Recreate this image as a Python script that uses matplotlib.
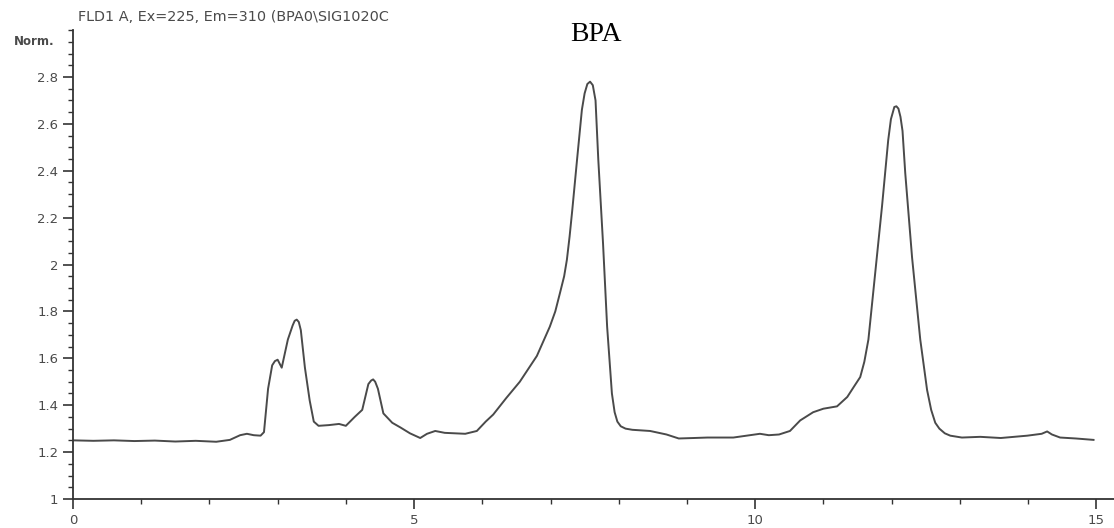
import matplotlib
matplotlib.use("Agg")
import matplotlib.pyplot as plt
from matplotlib.ticker import MultipleLocator, FormatStrFormatter

# Chromatogram trace (time in min, normalised signal)
time_min = [0.00, 0.30, 0.60, 0.90, 1.20, 1.50, 1.80, 2.10, 2.30, 2.45,
            2.55, 2.65, 2.75, 2.80, 2.86, 2.92, 2.96, 3.00, 3.06, 3.15,
            3.22, 3.25, 3.28, 3.31, 3.34, 3.40, 3.47, 3.53, 3.60, 3.75,
            3.90, 4.00, 4.13, 4.24, 4.33, 4.37, 4.40, 4.43, 4.47, 4.55,
            4.68, 4.80, 4.94, 5.09, 5.19, 5.31, 5.45, 5.60, 5.75, 5.92,
            6.05, 6.16, 6.35, 6.55, 6.80, 6.99, 7.07, 7.14, 7.20, 7.24,
            7.28, 7.32, 7.39, 7.46, 7.50, 7.54, 7.58, 7.62, 7.66, 7.70,
            7.77, 7.83, 7.90, 7.94, 7.98, 8.03, 8.10, 8.20, 8.46, 8.70,
            8.88, 9.10, 9.30, 9.68, 10.07, 10.20, 10.35, 10.51, 10.66, 10.85,
            11.00, 11.20, 11.35, 11.45, 11.54, 11.60, 11.66, 11.76, 11.86, 11.95,
            11.99, 12.04, 12.07, 12.10, 12.13, 12.16, 12.20, 12.30, 12.42, 12.52,
            12.58, 12.64, 12.70, 12.78, 12.86, 13.03, 13.30, 13.60, 13.99, 14.20,
            14.28, 14.35, 14.47, 14.70, 14.96]
signal = [1.250, 1.248, 1.250, 1.247, 1.249, 1.245, 1.248, 1.244, 1.252, 1.272,
          1.278, 1.272, 1.270, 1.285, 1.470, 1.570, 1.588, 1.594, 1.560, 1.680,
          1.740, 1.760, 1.765, 1.755, 1.720, 1.560, 1.420, 1.330, 1.312, 1.315,
          1.320, 1.312, 1.350, 1.380, 1.490, 1.505, 1.510, 1.500, 1.470, 1.365,
          1.325, 1.305, 1.280, 1.260, 1.278, 1.290, 1.282, 1.280, 1.278, 1.290,
          1.330, 1.360, 1.430, 1.500, 1.610, 1.735, 1.800, 1.880, 1.950, 2.020,
          2.120, 2.235, 2.450, 2.660, 2.730, 2.770, 2.780, 2.765, 2.700, 2.450,
          2.090, 1.735, 1.450, 1.370, 1.330, 1.310, 1.300, 1.295, 1.290, 1.275,
          1.258, 1.260, 1.262, 1.262, 1.278, 1.272, 1.275, 1.290, 1.335, 1.370,
          1.385, 1.395, 1.435, 1.480, 1.520, 1.585, 1.680, 1.965, 2.250, 2.530,
          2.620, 2.672, 2.675, 2.665, 2.630, 2.570, 2.390, 2.030, 1.680, 1.465,
          1.380, 1.325, 1.300, 1.280, 1.270, 1.262, 1.265, 1.260, 1.270, 1.278,
          1.288, 1.275, 1.262, 1.258, 1.252]

x_ticks = [0, 5, 10, 15]
y_ticks = [1, 1.2, 1.4, 1.6, 1.8, 2, 2.2, 2.4, 2.6, 2.8]

fig = plt.figure(figsize=(11.14, 5.28), dpi=100)
ax = fig.add_axes([0.0655, 0.055, 0.9345, 0.888])

ax.plot(time_min, signal, color="#4a4a4a", linewidth=1.4)

ax.set_xlim(0, 15.26)
ax.set_ylim(1, 3.0)
ax.set_xticks(x_ticks)
ax.set_yticks(y_ticks)
ax.xaxis.set_minor_locator(MultipleLocator(1))
ax.yaxis.set_minor_locator(MultipleLocator(0.05))
ax.yaxis.set_major_formatter(FormatStrFormatter("%g"))

for side in ["top", "right"]:
    ax.spines[side].set_visible(False)
for side in ["left", "bottom"]:
    ax.spines[side].set_color("#333333")
    ax.spines[side].set_linewidth(1.3)

ax.tick_params(which="major", direction="out", length=7, width=1.2,
               color="#333333", labelsize=9.5, labelcolor="#4a4a4a")
ax.tick_params(which="minor", direction="out", length=3.5, width=1.0,
               color="#333333")
for lab in ax.get_xticklabels() + ax.get_yticklabels():
    lab.set_fontfamily("DejaVu Sans")

fig.text(0.049, 0.921, "Norm.", ha="right", va="center", fontsize=8.5,
         color="#4a4a4a", family="DejaVu Sans", fontweight="bold")
fig.text(0.07, 0.968, r"FLD1 A, Ex=225, Em=310 (BPA0\SIG1020C", ha="left",
         va="center", fontsize=10.4, color="#4a4a4a", family="DejaVu Sans")
fig.text(0.535, 0.935, "BPA", ha="center", va="center", fontsize=20,
         color="black", family="Liberation Serif")

fig.savefig("out.png", dpi=100, facecolor="white")
